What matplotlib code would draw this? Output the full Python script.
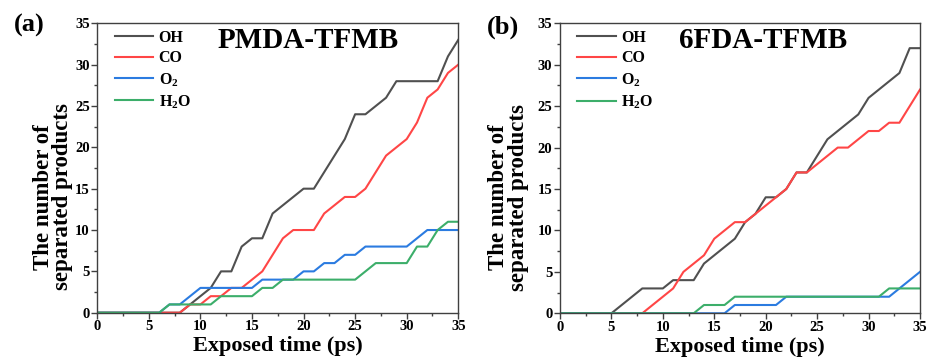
import numpy as np
import matplotlib
matplotlib.use("Agg")
import matplotlib.pyplot as plt
from matplotlib.ticker import MultipleLocator

plt.rcParams['font.family'] = ['Liberation Serif', 'DejaVu Serif']
plt.rcParams['font.weight'] = 'bold'
plt.rcParams['mathtext.fontset'] = 'custom'
plt.rcParams['mathtext.rm'] = 'Liberation Serif:bold'
plt.rcParams['mathtext.bf'] = 'Liberation Serif:bold'

# exposed time, ps
time = list(range(0, 36))

# (a) PMDA-TFMB
pmda_oh = [0, 0, 0, 0, 0, 0, 0, 0, 0, 1, 2, 3, 5, 5, 8, 9, 9, 12, 13, 14, 15, 15,
           17, 19, 21, 24, 24, 25, 26, 28, 28, 28, 28, 28, 31, 33]
pmda_co = [0, 0, 0, 0, 0, 0, 0, 0, 0, 1, 1, 2, 2, 3, 3, 4, 5, 7, 9, 10, 10, 10,
           12, 13, 14, 14, 15, 17, 19, 20, 21, 23, 26, 27, 29, 30]
pmda_o2 = [0, 0, 0, 0, 0, 0, 0, 1, 1, 2, 3, 3, 3, 3, 3, 3, 4, 4, 4, 4, 5, 5,
           6, 6, 7, 7, 8, 8, 8, 8, 8, 9, 10, 10, 10, 10]
pmda_h2o = [0, 0, 0, 0, 0, 0, 0, 1, 1, 1, 1, 1, 2, 2, 2, 2, 3, 3, 4, 4, 4, 4,
            4, 4, 4, 4, 5, 6, 6, 6, 6, 8, 8, 10, 11, 11]

# (b) 6FDA-TFMB
fda_oh = [0, 0, 0, 0, 0, 0, 1, 2, 3, 3, 3, 4, 4, 4, 6, 7, 8, 9, 11, 12, 14, 14,
          15, 17, 17, 19, 21, 22, 23, 24, 26, 27, 28, 29, 32, 32]
fda_co = [0, 0, 0, 0, 0, 0, 0, 0, 0, 1, 2, 3, 5, 6, 7, 9, 10, 11, 11, 12, 13, 14,
          15, 17, 17, 18, 19, 20, 20, 21, 22, 22, 23, 23, 25, 27]
fda_o2 = [0, 0, 0, 0, 0, 0, 0, 0, 0, 0, 0, 0, 0, 0, 0, 0, 0, 1, 1, 1, 1, 1,
          2, 2, 2, 2, 2, 2, 2, 2, 2, 2, 2, 3, 4, 5]
fda_h2o = [0, 0, 0, 0, 0, 0, 0, 0, 0, 0, 0, 0, 0, 0, 1, 1, 1, 2, 2, 2, 2, 2,
           2, 2, 2, 2, 2, 2, 2, 2, 2, 2, 3, 3, 3, 3]

labels = ['OH', 'CO', 'O$_2$', 'H$_2$O']
colors = ['#505050', '#ff4646', '#2b7be0', '#3cae6a']

fig = plt.figure(figsize=(9.29, 3.58), dpi=100)
ax1 = fig.add_axes([0.1047, 0.1265, 0.3886, 0.8084])
ax2 = fig.add_axes([0.6028, 0.1249, 0.3875, 0.8100])

panels = [
    (ax1, [pmda_oh, pmda_co, pmda_o2, pmda_h2o], 'PMDA-TFMB', 0.585, -0.066),
    (ax2, [fda_oh, fda_co, fda_o2, fda_h2o], '6FDA-TFMB', 0.565, -0.086),
]

for ax, series, name, tx, ylx in panels:
    for vals, lab, c in zip(series, labels, colors):
        ax.plot(time, vals, color=c, lw=1.5, label=lab)
    ax.set_xlim(0, 35)
    ax.set_ylim(0, 35)
    ax.xaxis.set_major_locator(MultipleLocator(5))
    ax.xaxis.set_minor_locator(MultipleLocator(2.5))
    ax.yaxis.set_major_locator(MultipleLocator(5))
    ax.yaxis.set_minor_locator(MultipleLocator(2.5))
    ax.tick_params(which='major', length=4, width=1, pad=1.5, labelsize=10.5, color='#404040')
    ax.tick_params(which='minor', length=2.5, width=1, color='#404040')
    for sp in ax.spines.values():
        sp.set_color('#404040')
        sp.set_linewidth(1.0)
    ax.set_xlabel('Exposed time (ps)', fontsize=16, fontweight='bold', labelpad=2)
    ax.set_ylabel('The number of\nseparated products', fontsize=16.5, fontweight='bold',
                  linespacing=0.92)
    ax.yaxis.set_label_coords(ylx, 0.40)
    ax.text(tx, 0.94, name, transform=ax.transAxes, fontsize=21, fontweight='bold',
            ha='center', va='center')
    ax.legend(loc='upper left', bbox_to_anchor=(0.048, 0.977), frameon=False,
              fontsize=11.5, handlelength=2.4, handletextpad=0.35,
              labelspacing=0.28, borderpad=0, borderaxespad=0)

fig.text(29.5 / 929, 1 - 25 / 358, '(a)', fontsize=19, fontweight='bold', ha='center', va='center')
fig.text(503 / 929, 1 - 27 / 358, '(b)', fontsize=19, fontweight='bold', ha='center', va='center')

fig.savefig('out.png', dpi=100)
